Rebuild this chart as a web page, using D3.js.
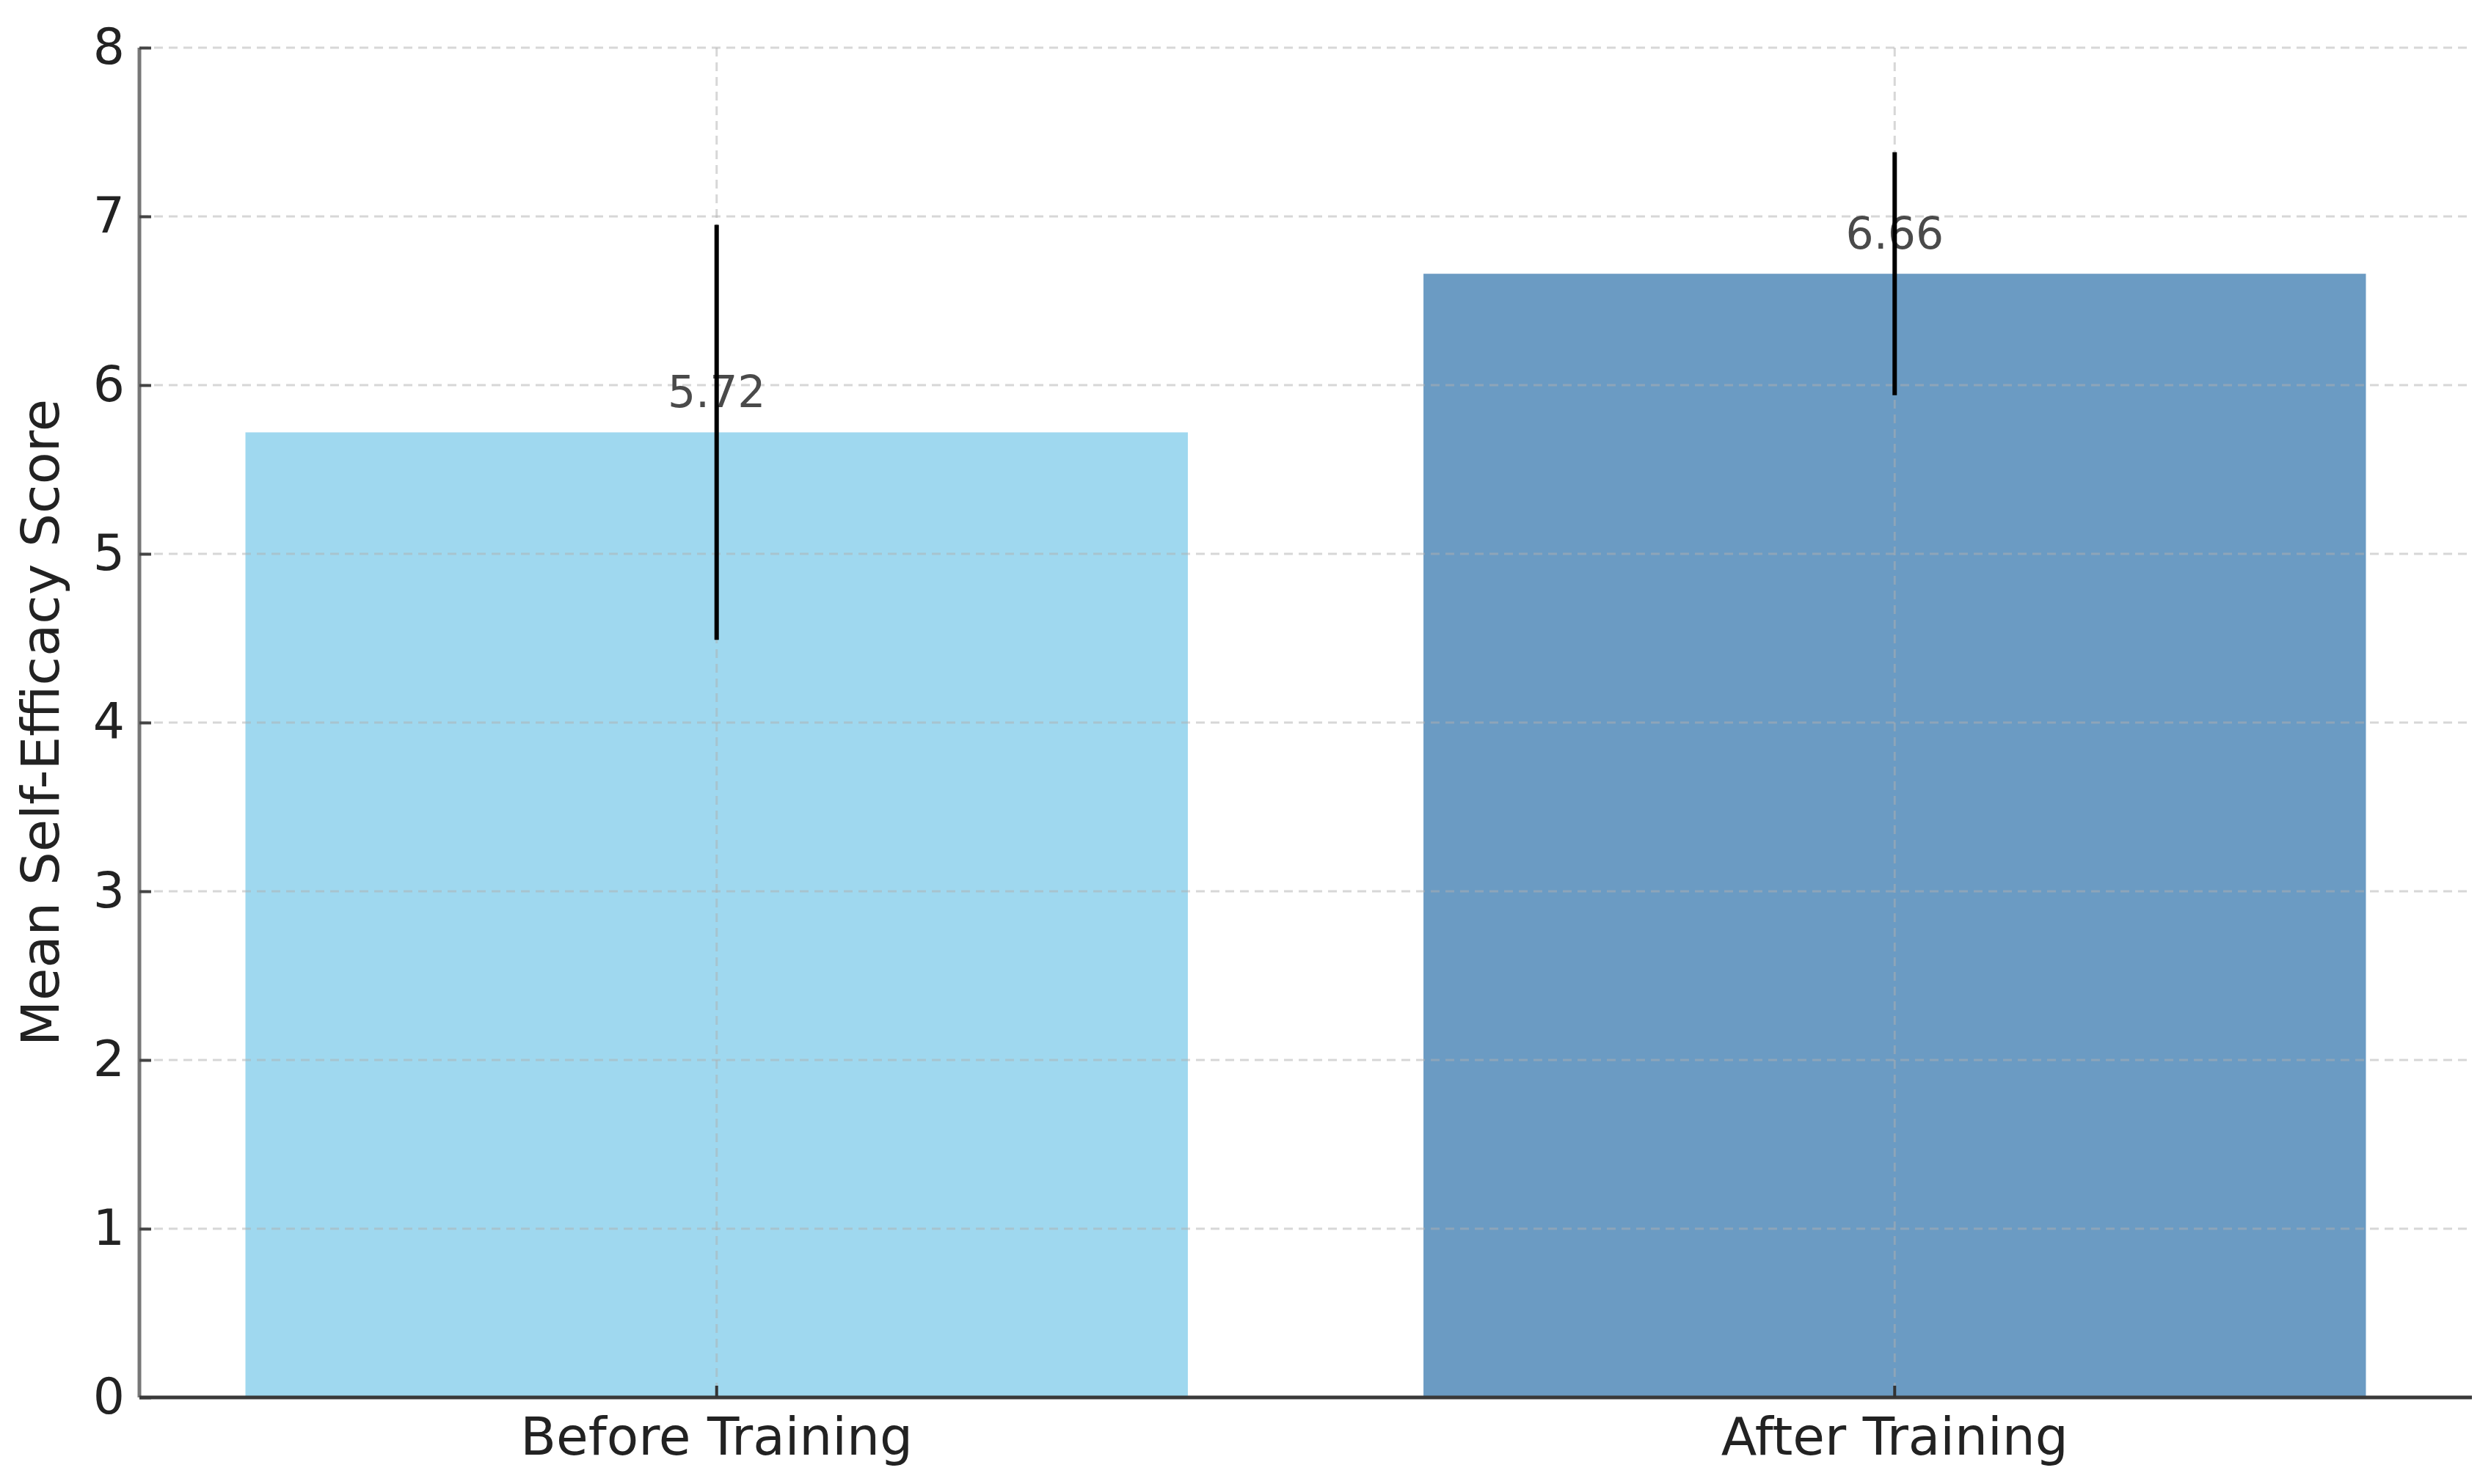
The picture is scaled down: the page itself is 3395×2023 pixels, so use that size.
<!DOCTYPE html>
<html>
<head>
<meta charset="utf-8">
<script src="https://cdn.jsdelivr.net/npm/d3@7"></script>
<style>
  html, body { margin: 0; padding: 0; background: #fff; }
  svg { display: block; }
  text { font-family: "DejaVu Sans", sans-serif; }
</style>
</head>
<body>
<script>
const categories = ["Before Training", "After Training"];
const means = [5.72, 6.66];
const errors = [1.23, 0.72];
const barColors = ["#87CEEB", "#4682B4"];
const yTicks = [0, 1, 2, 3, 4, 5, 6, 7, 8];
const yLabel = "Mean Self-Efficacy Score";

const W = 3395, H = 2023;
const mLeft = 190, mRight = 3369, mTop = 65, mBottom = 1905;

const svg = d3.select("body").append("svg").attr("width", W).attr("height", H);

const x = d3.scaleBand().domain(categories).range([mLeft, mRight])
  .paddingInner(0.2).paddingOuter(0.09);
const y = d3.scaleLinear().domain([0, 8]).range([mBottom, mTop]);

// bars
svg.append("g").selectAll("rect").data(categories).join("rect")
  .attr("x", d => x(d))
  .attr("y", (d, i) => y(means[i]))
  .attr("width", x.bandwidth())
  .attr("height", (d, i) => y(0) - y(means[i]))
  .attr("fill", (d, i) => barColors[i])
  .attr("fill-opacity", 0.8);

// grid (on top, faint)
const grid = svg.append("g");
grid.selectAll("line.h").data(yTicks.slice(1)).join("line")
  .attr("class", "h")
  .attr("x1", mLeft).attr("x2", mRight)
  .attr("y1", d => y(d)).attr("y2", d => y(d))
  .attr("stroke", "#b0b0b0").attr("stroke-opacity", 0.5)
  .attr("stroke-width", 3).attr("stroke-dasharray", "12,8");
grid.selectAll("line.v").data(categories).join("line")
  .attr("class", "v")
  .attr("x1", d => x(d) + x.bandwidth() / 2).attr("x2", d => x(d) + x.bandwidth() / 2)
  .attr("y1", mTop).attr("y2", mBottom)
  .attr("stroke", "#b0b0b0").attr("stroke-opacity", 0.5)
  .attr("stroke-width", 3).attr("stroke-dasharray", "12,8");

// value labels
svg.append("g").selectAll("text").data(categories).join("text")
  .attr("x", d => x(d) + x.bandwidth() / 2)
  .attr("y", (d, i) => y(means[i]) - 34)
  .attr("text-anchor", "middle")
  .attr("font-size", 60)
  .attr("fill", "#4a4a4a")
  .text((d, i) => means[i].toFixed(2));

// error bars
svg.append("g").selectAll("line").data(categories).join("line")
  .attr("x1", d => x(d) + x.bandwidth() / 2).attr("x2", d => x(d) + x.bandwidth() / 2)
  .attr("y1", (d, i) => y(means[i] + errors[i]))
  .attr("y2", (d, i) => y(means[i] - errors[i]))
  .attr("stroke", "#000").attr("stroke-width", 6);

// y axis
const yAxis = d3.axisLeft(y).tickValues(yTicks).tickSize(-16).tickPadding(20).tickFormat(d3.format("d"));
const gy = svg.append("g").attr("transform", `translate(${mLeft},0)`).call(yAxis);
gy.select(".domain").attr("stroke", "#777").attr("stroke-width", 5).attr("d", `M0,${mTop}V${mBottom}`);
gy.selectAll(".tick line").attr("stroke", "#444").attr("stroke-width", 4);
gy.selectAll(".tick text").attr("font-size", 68).attr("fill", "#222")
  .attr("font-family", "DejaVu Sans");

// x axis
const xAxis = d3.axisBottom(x).tickSize(-16).tickPadding(28);
const gx = svg.append("g").attr("transform", `translate(0,${mBottom})`).call(xAxis);
gx.select(".domain").attr("stroke", "#3a3a3a").attr("stroke-width", 5).attr("d", `M${mLeft},0H${mRight}`);
gx.selectAll(".tick line").attr("stroke", "#333").attr("stroke-width", 4);
gx.selectAll(".tick text").attr("font-size", 71).attr("fill", "#222")
  .attr("font-family", "DejaVu Sans");

// y label
svg.append("text")
  .attr("transform", `translate(80,${(mTop + mBottom) / 2}) rotate(-90)`)
  .attr("text-anchor", "middle")
  .attr("font-size", 72)
  .attr("fill", "#222")
  .text(yLabel);
</script>
</body>
</html>
